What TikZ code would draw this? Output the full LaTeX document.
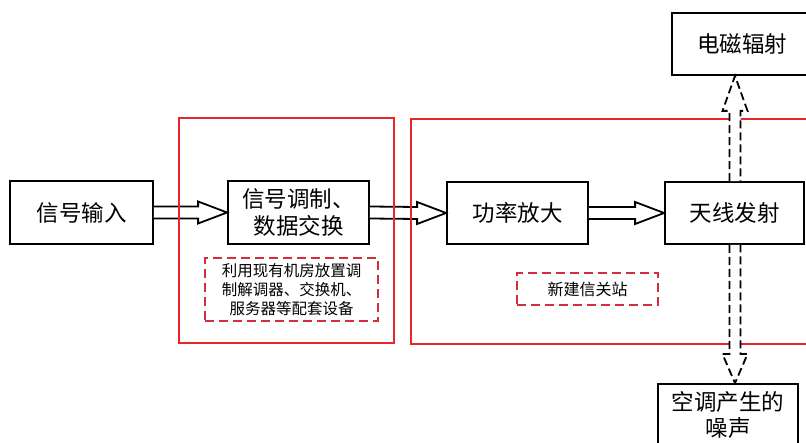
\documentclass[tikz,border=0pt]{standalone}
\usepackage{fontspec}
\newfontfamily\cjk{Noto Sans CJK SC}
\usetikzlibrary{calc}
\definecolor{boxred}{RGB}{232,38,42}
\definecolor{dashred}{RGB}{214,45,58}
\begin{document}
\begin{tikzpicture}[x=1pt,y=-1pt,
  blk/.style={draw=black,line width=1.8pt,fill=white,inner sep=0pt,align=center,
    font=\cjk\fontsize{22.5}{27}\selectfont},
  note/.style={draw=dashred,line width=1.8pt,dash pattern=on 9pt off 5pt,fill=white,inner sep=0pt,align=center},
  region/.style={draw=boxred,line width=1.6pt,inner sep=0pt},
  harrow/.style={draw=black,line width=1.8pt,fill=white,line join=miter},
  darrow/.style={draw=black,line width=1.8pt,fill=white,dash pattern=on 8pt off 4pt,line join=miter}]
\useasboundingbox (0,0) rectangle (806,443);
\fill[white] (0,0) rectangle (806,443);

% main boxes
\node[blk,minimum width=143pt,minimum height=63pt] (in) at (81.5,212.5) {信号输入};
\node[blk,minimum width=141pt,minimum height=63pt] (mod) at (298.5,212.5) {信号调制、\\数据交换};
\node[blk,minimum width=141pt,minimum height=62pt] (amp) at (517.5,213) {功率放大};
\node[blk,minimum width=139pt,minimum height=62pt] (ant) at (734.5,213) {天线发射};
\node[blk,minimum width=140pt,minimum height=62pt] (emr) at (742,44) {电磁辐射};
\node[blk,minimum width=140pt,minimum height=62pt,font=\cjk\fontsize{22.5}{26}\selectfont] (noise) at (728,415) {空调产生的\\噪声};

% dashed notes
\node[note,minimum width=173pt,minimum height=63pt,font=\cjk\fontsize{15.5}{19}\selectfont] (note1) at (291.5,289.5) {利用现有机房放置调\\制解调器、交换机、\\服务器等配套设备};
\node[note,minimum width=141pt,minimum height=32pt,font=\cjk\fontsize{16}{19}\selectfont] (note2) at (587.5,289) {新建信关站};

% hollow arrows between boxes
\foreach \a/\b in {in/mod,mod/amp,amp/ant}{
  \draw[harrow] ($(\a.east)+(0,-6)$) -- ($(\b.west)+(-29,-6)$) -- ($(\b.west)+(-29,-11)$)
    -- (\b.west) -- ($(\b.west)+(-29,11)$) -- ($(\b.west)+(-29,6)$) -- ($(\a.east)+(0,6)$);
}

% red regions
\node[region,minimum width=215pt,minimum height=225pt] (reg1) at (286.5,230.5) {};
\node[region,anchor=north west,minimum width=430pt,minimum height=225pt] (reg2) at (410,118) {};

% dashed hollow arrows
\coordinate (uptip) at ($(ant.north |- emr.south)+(0.5,0)$);
\coordinate (upbase) at ($(ant.north)+(0.5,0)$);
\draw[darrow] ($(upbase)+(-5.5,0)$) -- ($(uptip)+(-5.5,35)$) -- ($(uptip)+(-12.5,35)$)
  -- (uptip) -- ($(uptip)+(12.5,35)$) -- ($(uptip)+(5.5,35)$) -- ($(upbase)+(5.5,0)$);
\coordinate (dntip) at ($(ant.south |- noise.north)+(0.5,0)$);
\coordinate (dnbase) at ($(ant.south)+(0.5,0)$);
\draw[darrow] ($(dnbase)+(-5.5,0)$) -- ($(dntip)+(-5.5,-29)$) -- ($(dntip)+(-12.5,-29)$)
  -- (dntip) -- ($(dntip)+(12.5,-29)$) -- ($(dntip)+(5.5,-29)$) -- ($(dnbase)+(5.5,0)$);
\end{tikzpicture}
\end{document}
